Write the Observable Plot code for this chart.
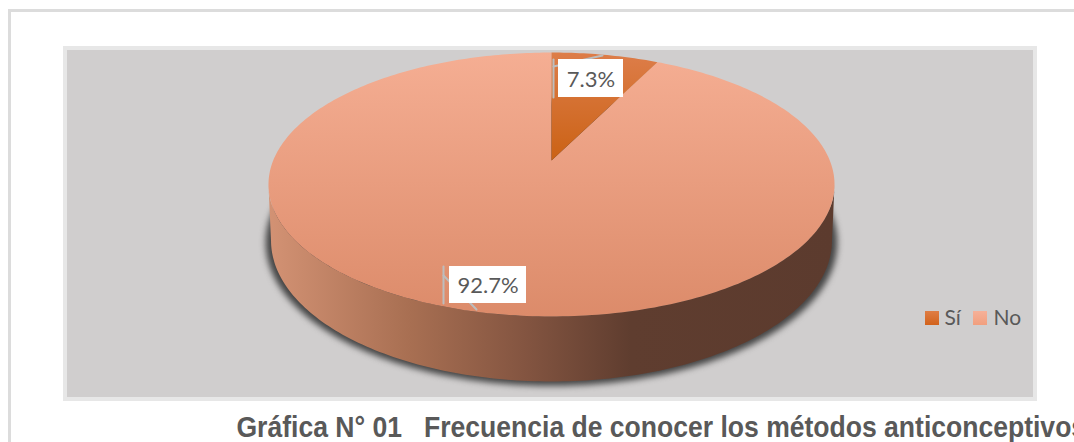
<!DOCTYPE html>
<html>
<head>
<meta charset="utf-8">
<script src="https://cdn.jsdelivr.net/npm/d3@7"></script>
<script src="https://cdn.jsdelivr.net/npm/@observablehq/plot@0.6"></script>
<style>html,body{margin:0;padding:0;background:#fff;overflow:hidden}svg{display:block}</style>
</head>
<body>
<div id="chart"></div>
<script>
// Data
const categories = ["Sí", "No"];
const shares = [7.3, 92.7];
const shareLabels = ["7.3%", "92.7%"];
const title = "Gráfica N° 01   Frecuencia de conocer los métodos anticonceptivos";

// Pie perspective geometry
const W = 1074, H = 442;
const cx = 551, k = 0.1818;
const topDisc = {c: 160, a: 278.3, b: 127.6};
const baseDisc = {c: 214.4, a: 275.8, b: 136.3};
const shadowDisc = {c: 216, a: 281, b: 138.5};
const project = (deg, d) => {
  const t = deg * Math.PI / 180, u = Math.sin(t), v = -Math.cos(t), w = 1 - k * v;
  return {x: cx + d.a * u / w, y: d.c + d.b * v / w};
};
const arc = (a0, a1, d) => {
  const n = Math.max(2, Math.ceil(Math.abs(a1 - a0)));
  return d3.range(n + 1).map(i => project(a0 + (a1 - a0) * i / n, d));
};
const total = d3.sum(shares);
const end = shares[0] / total * 360;
const apex = {x: cx, y: topDisc.c};
const wedgeSi = [apex, ...arc(0, end, topDisc), apex];
const wedgeNo = [apex, ...arc(end, 360, topDisc), apex];
const edge = Math.acos(-k) * 180 / Math.PI;
const side = [...arc(edge, 360 - edge, topDisc), ...arc(360 - edge, edge, baseDisc)];
const shadow = arc(0, 360, shadowDisc);

const grad = (id, x2, y2, stops) => () => {
  const s = d3.create("svg:defs");
  const g = s.append("linearGradient").attr("id", id).attr("x1", 0).attr("y1", 0).attr("x2", x2).attr("y2", y2);
  stops.forEach(([o, c]) => g.append("stop").attr("offset", o).attr("stop-color", c));
  return s.node();
};
const blurred = px => function (index, scales, values, dims, ctx, next) {
  const g = next(index, scales, values, dims, ctx);
  g.style.filter = `blur(${px}px)`;
  return g;
};
// squeezes a text horizontally around its start, as the narrow caption face in the reference
const squeezed = (x0, sx) => function (index, scales, values, dims, ctx, next) {
  const g = next(index, scales, values, dims, ctx);
  const w = document.createElementNS("http://www.w3.org/2000/svg", "g");
  w.setAttribute("transform", `translate(${x0},0) scale(${sx},1) translate(${-x0},0)`);
  w.appendChild(g);
  return w;
};
const box = (x1, y1, x2, y2, fill) => Plot.rect([{x1, y1, x2, y2}], {x1: "x1", x2: "x2", y1: "y1", y2: "y2", fill, inset: 0});
const seg = (pts) => Plot.line(pts, {x: "x", y: "y", stroke: "#bdbdbd", strokeWidth: 2});
const poly = (pts, fill, extra = {}) => Plot.line(pts, {x: "x", y: "y", fill, stroke: "none", ...extra});
const label = (x, y, text, o = {}) => Plot.text([text], {x: () => x, y: () => y, text: d => d, fontFamily: "Lato", fontSize: 22, fill: "#595959", textAnchor: "start", ...o});

const plot = Plot.plot({
  width: W, height: H,
  margin: 0,
  style: {background: "#fff", overflow: "hidden"},
  x: {domain: [0, W], range: [0, W], axis: null},
  y: {domain: [0, H], range: [0, H], axis: null},
  marks: [
    grad("gNo", 0, 1, [[0, "#f5ae93"], [1, "#dc8b6a"]]),
    grad("gSi", 0, 1, [[0, "#dd7d49"], [1, "#cb6215"]]),
    grad("gSide", 1, 0, [[0, "#d39274"], [0.25, "#a86f52"], [0.45, "#845541"], [0.64, "#5f3d2f"], [1, "#5c3b2e"]]),
    grad("gLegSi", 0, 1, [[0, "#df7d44"], [1, "#d2621b"]]),
    grad("gLegNo", 0, 1, [[0, "#f6b199"], [1, "#f19f7e"]]),
    // outer frame
    box(8, 9, W + 4, H + 4, "#dcdcdc"),
    box(11, 12, W + 4, H + 4, "#fff"),
    // panel
    box(63, 46, 1037, 401, "#e7e7e7"),
    box(67, 50, 1033, 397, "#d0cece"),
    // pie
    poly(shadow, "#444", {render: blurred(3)}),
    poly(side, "url(#gSide)"),
    poly(wedgeNo, "url(#gNo)"),
    poly(wedgeSi, "url(#gSi)"),
    // data labels with leaders
    seg([{x: 553, y: 59}, {x: 553, y: 97}]),
    seg([{x: 553, y: 66}, {x: 602, y: 55}]),
    seg([{x: 443, y: 266}, {x: 443, y: 303}]),
    seg([{x: 443, y: 275}, {x: 476, y: 309}]),
    box(558, 59, 623, 97, "#fff"),
    box(449, 266, 526, 303, "#fff"),
    label(590.5, 79, shareLabels[0], {textAnchor: "middle"}),
    label(487.5, 285, shareLabels[1], {textAnchor: "middle"}),
    // legend
    box(925, 311, 939, 325, "url(#gLegSi)"),
    box(973, 311, 987, 325, "url(#gLegNo)"),
    label(944, 317.5, categories[0], {fontSize: 21}),
    label(993, 317.5, categories[1], {fontSize: 21}),
    // caption
    label(236, 427.5, title, {fontFamily: "Liberation Sans", fontWeight: "bold", fontSize: 29.5, render: squeezed(236, 0.9)})
  ]
});
document.getElementById("chart").appendChild(plot);
</script>
</body>
</html>
